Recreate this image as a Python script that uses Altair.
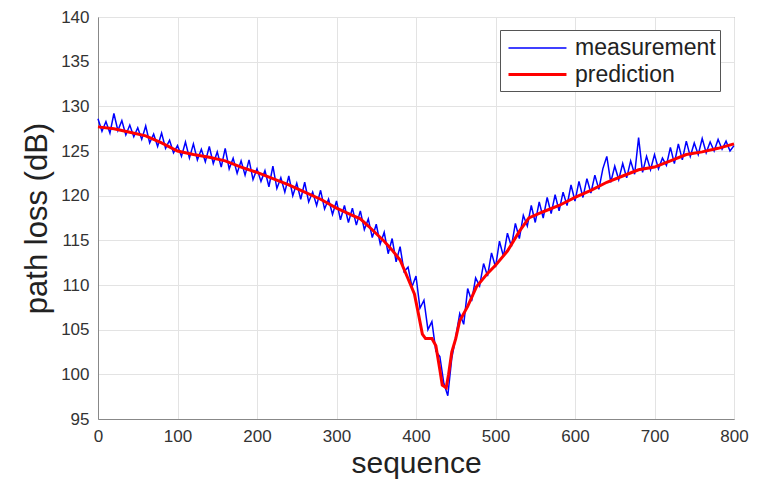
import altair as alt
import pandas as pd

# measurement sampled every 5 steps
meas_x = list(range(0, 801, 5))
meas_y = [
    128.6, 127.2, 128.3, 127.0, 129.2, 127.3, 128.4, 126.8, 127.9, 126.6,
    127.6, 126.3, 127.8, 125.9, 126.9, 125.5, 127.0, 125.3, 126.2, 124.8,
    125.6, 124.4, 126.0, 124.2, 125.8, 124.0, 125.2, 123.8, 125.5, 123.6,
    124.9, 123.2, 125.3, 123.0, 124.2, 122.5, 123.9, 122.3, 124.0, 121.8,
    123.0, 121.6, 122.8, 121.0, 123.3, 120.8, 122.0, 120.4, 122.2, 120.0,
    121.4, 119.6, 121.5, 119.3, 120.4, 118.9, 120.6, 118.5, 119.6, 117.9,
    119.4, 117.3, 118.9, 117.0, 118.6, 116.7, 118.3, 116.2, 117.4, 115.3,
    116.8, 114.6, 115.9, 113.5, 115.2, 112.6, 114.3, 111.5, 112.0, 109.8,
    111.0, 107.4, 108.3, 105.0, 105.9, 102.6, 102.0, 99.0, 97.6, 101.8,
    104.2, 106.8, 105.6, 109.6, 108.2, 110.8, 109.9, 112.4, 111.0, 113.6,
    112.0, 114.9, 113.2, 115.8, 114.3, 116.9, 115.2, 117.8, 116.6, 118.9,
    117.0, 119.3, 117.5, 119.8, 118.0, 120.1, 118.3, 120.4, 118.9, 121.2,
    119.4, 121.6, 119.8, 121.9, 120.3, 122.3, 120.7, 123.0, 124.4, 121.5,
    123.3, 121.8, 123.6, 122.0, 123.9, 122.4, 126.5, 122.6, 124.4, 122.9,
    124.6, 123.0, 124.2, 123.4, 125.4, 123.6, 125.8, 124.0, 126.1, 124.4,
    125.9, 124.6, 126.4, 124.8, 126.0, 125.0, 126.3, 125.2, 126.1, 125.0,
    125.6,
]

pred_x = [0, 20, 40, 60, 80, 100, 120, 140, 160, 180, 200, 220, 240, 260, 280,
          300, 320, 330, 340, 360, 370, 380, 390, 398, 403, 408, 412, 420, 425,
          430, 433, 438, 441, 445, 450, 455, 465, 476, 490, 500, 515, 530, 542,
          560, 580, 600, 620, 640, 660, 680, 700, 720, 740, 760, 780, 800]
pred_y = [127.7, 127.5, 127.1, 126.7, 125.9, 125.0, 124.6, 124.3, 123.9, 123.2,
          122.6, 121.9, 121.2, 120.4, 119.6, 118.6, 117.8, 117.4, 116.6, 114.9,
          113.9, 112.8, 110.7, 109.0, 106.8, 104.5, 104.0, 104.0, 103.2, 100.5,
          98.8, 98.5, 100.0, 102.5, 104.0, 106.0, 107.6, 109.8, 111.3, 112.2,
          113.8, 116.0, 117.5, 118.2, 118.9, 119.8, 120.6, 121.5, 122.2, 122.9,
          123.2, 123.9, 124.6, 124.9, 125.3, 125.8]

series_names = ["measurement", "prediction"]
series_colors = ["#0000ff", "#ff0000"]
series_widths = [1.5, 3.0]

df = pd.concat([
    pd.DataFrame({"sequence": meas_x, "value": meas_y, "series": series_names[0]}),
    pd.DataFrame({"sequence": pred_x, "value": pred_y, "series": series_names[1]}),
])

legend = alt.Legend(
    title=None, orient="none", legendX=402, legendY=13,
    symbolType="M-0.77,0H3.69", symbolSize=676, symbolStrokeWidth=2.5,
    labelFontSize=23, labelFont="Liberation Sans", labelColor="#222222",
    strokeColor="#555555", fillColor="white", padding=4, rowPadding=0,
    labelOffset=42,
)

chart = alt.Chart(df).mark_line().encode(
    x=alt.X("sequence:Q", scale=alt.Scale(domain=[0, 800], nice=False),
            axis=alt.Axis(values=list(range(0, 801, 100)), title="sequence")),
    y=alt.Y("value:Q", scale=alt.Scale(domain=[95, 140], nice=False, zero=False),
            axis=alt.Axis(values=list(range(95, 141, 5)), title="path loss (dB)")),
    color=alt.Color("series:N", scale=alt.Scale(domain=series_names, range=series_colors),
                    legend=legend),
    strokeWidth=alt.StrokeWidth("series:N", scale=alt.Scale(domain=series_names, range=series_widths),
                                legend=legend),
    order=alt.Order("series:N"),
).properties(
    width=636, height=402,
    autosize=alt.AutoSizeParams(type="none"),
    padding={"left": 90, "top": 9, "right": 16, "bottom": 64},
).configure_view(
    stroke="#888888", strokeWidth=1,
).configure_axis(
    grid=True, gridColor="#e3e3e3", gridWidth=1,
    domainColor="#888888", ticks=False, tickSize=0,
    labelFont="Liberation Sans", labelFontSize=17, labelColor="#333333",
    titleFont="Liberation Sans", titleFontSize=31, titleFontWeight="normal",
    titleColor="#222222", labelPadding=9, labelFlush=False, labelOverlap=False,
).configure_axisX(
    titlePadding=4, titleFontSize=30,
).configure_axisY(
    titlePadding=7,
)

chart.save("out.html", embed_options={"renderer": "svg", "actions": False})
